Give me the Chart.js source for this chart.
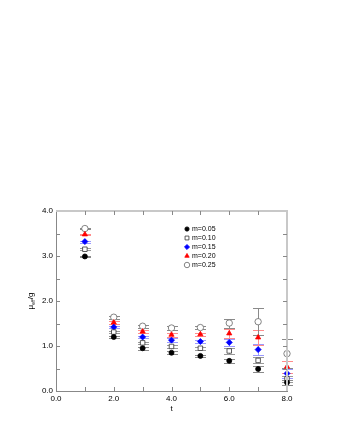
<!DOCTYPE html>
<html>
<head>
<meta charset="utf-8">
<script src="https://cdn.jsdelivr.net/npm/chart.js@4/dist/chart.umd.min.js"></script>
<style>
  html, body { margin: 0; padding: 0; background: #fff; }
  #wrap { width: 337px; height: 436px; }
</style>
</head>
<body>
<div id="wrap"><canvas id="grafico" width="337" height="436"></canvas></div>
<script>
// valores
var tempos = [1, 2, 3, 4, 5, 6, 7, 8];
var massas = ['m=0.05', 'm=0.10', 'm=0.15', 'm=0.20', 'm=0.25'];

var mu005 = [2.99, 1.20, 0.95, 0.85, 0.78, 0.67, 0.49, 0.19];
var mu010 = [3.15, 1.31, 1.07, 0.99, 0.95, 0.89, 0.68, 0.27];
var mu015 = [3.32, 1.42, 1.20, 1.13, 1.10, 1.08, 0.92, 0.39];
var mu020 = [3.48, 1.52, 1.32, 1.25, 1.26, 1.28, 1.19, 0.54];
var mu025 = [3.61, 1.64, 1.44, 1.40, 1.41, 1.51, 1.54, 0.83];

var err005 = [0.02, 0.03, 0.03, 0.03, 0.03, 0.05, 0.065, 0.05];
var err010 = [0.02, 0.03, 0.03, 0.03, 0.03, 0.06, 0.065, 0.06];
var err015 = [0.02, 0.03, 0.03, 0.04, 0.04, 0.07, 0.12, 0.10];
var err020 = [0.02, 0.03, 0.03, 0.04, 0.04, 0.10, 0.16, 0.13];
var err025 = [0.02, 0.03, 0.03, 0.04, 0.04, 0.10, 0.30, 0.32];

var xTicks = [0, 2, 4, 6, 8];
var yTicks = [0, 1, 2, 3, 4];

function pontos(vals) {
    return tempos.map(function (t, i) { return { x: t, y: vals[i] }; });
}

var series = [
    { vals: mu005, errs: err005, style: 'circle', radius: 2.5, fill: '#000000', border: '#000000', errColor: '#8a8a8a' },
    { vals: mu010, errs: err010, style: 'rect', radius: 3.2, fill: '#ffffff', border: '#333333', errColor: '#9a9a9a' },
    { vals: mu015, errs: err015, style: 'rectRot', radius: 3, fill: '#0000ff', border: '#0000ff', errColor: '#9a9aff' },
    { vals: mu020, errs: err020, style: 'triangle', radius: 3, fill: '#ff0000', border: '#ff0000', errColor: '#ff8c8c' },
    { vals: mu025, errs: err025, style: 'circle', radius: 3.2, fill: '#ffffff', border: '#666666', errColor: '#8a8a8a' }
];

var datasets = series.map(function (s, i) {
    return {
        label: massas[i],
        data: pontos(s.vals),
        errs: s.errs,
        errColor: s.errColor,
        pointStyle: s.style,
        pointRadius: s.radius,
        pointHoverRadius: s.radius,
        backgroundColor: s.fill,
        borderColor: s.border,
        pointBorderWidth: 0.8,
        showLine: false,
        clip: false
    };
});

var fonte = '"Liberation Sans", Arial, Helvetica, sans-serif';

// barras de erro, bordas e marcas internas
var extras = {
    id: 'extras',
    beforeDatasetsDraw: function (chart) {
        var ctx = chart.ctx;
        var xs = chart.scales.x, ys = chart.scales.y;
        ctx.save();
        ctx.lineWidth = 1;
        chart.data.datasets.forEach(function (ds) {
            ctx.strokeStyle = ds.errColor;
            ds.data.forEach(function (p, i) {
                var px = Math.round(xs.getPixelForValue(p.x)) + 0.5;
                var top = Math.round(ys.getPixelForValue(p.y + ds.errs[i])) + 0.5;
                var bot = Math.round(ys.getPixelForValue(p.y - ds.errs[i])) + 0.5;
                var w = 5.5;
                ctx.beginPath();
                ctx.moveTo(px, top); ctx.lineTo(px, bot);
                ctx.moveTo(px - w, top); ctx.lineTo(px + w, top);
                ctx.moveTo(px - w, bot); ctx.lineTo(px + w, bot);
                ctx.stroke();
            });
        });
        ctx.restore();
    },
    afterDraw: function (chart) {
        var ctx = chart.ctx;
        var a = chart.chartArea;
        var xs = chart.scales.x, ys = chart.scales.y;
        ctx.save();
        // borda de cima e da direita
        ctx.strokeStyle = '#c8c8c8';
        ctx.lineWidth = 2;
        ctx.beginPath();
        ctx.moveTo(a.left, a.top);
        ctx.lineTo(a.right, a.top);
        ctx.lineTo(a.right, a.bottom);
        ctx.stroke();
        // marcas internas
        ctx.strokeStyle = '#888888';
        ctx.lineWidth = 1;
        ctx.beginPath();
        for (var v = 1; v < 8; v++) {
            var px = Math.round(xs.getPixelForValue(v)) + 0.5;
            ctx.moveTo(px, a.bottom); ctx.lineTo(px, a.bottom - 4);
            ctx.moveTo(px, a.top); ctx.lineTo(px, a.top + 4);
        }
        for (var k = 1; k < 8; k++) {
            var py = Math.round(ys.getPixelForValue(k * 0.5)) + 0.5;
            ctx.moveTo(a.left, py); ctx.lineTo(a.left + 4, py);
            ctx.moveTo(a.right, py); ctx.lineTo(a.right - 4, py);
        }
        ctx.stroke();

        // títulos dos eixos
        ctx.fillStyle = '#000';
        ctx.textAlign = 'center';
        ctx.textBaseline = 'middle';
        ctx.font = '8px ' + fonte;
        ctx.fillText('t', (a.left + a.right) / 2, 409);

        ctx.translate(30, (a.top + a.bottom) / 2);
        ctx.rotate(-Math.PI / 2);
        ctx.textAlign = 'left';
        ctx.textBaseline = 'alphabetic';
        var w1 = ctx.measureText('\u03bc').width;
        ctx.font = '5px ' + fonte;
        var w2 = ctx.measureText('eff').width;
        ctx.font = '8px ' + fonte;
        var w3 = ctx.measureText('/g').width;
        var x0 = -(w1 + w2 + w3) / 2;
        ctx.fillText('\u03bc', x0, 3);
        ctx.font = '5px ' + fonte;
        ctx.fillText('eff', x0 + w1, 5);
        ctx.font = '8px ' + fonte;
        ctx.fillText('/g', x0 + w1 + w2, 3);
        ctx.restore();

        // legenda
        ctx.save();
        ctx.font = '7px ' + fonte;
        ctx.textAlign = 'left';
        ctx.textBaseline = 'middle';
        chart.data.datasets.forEach(function (ds, i) {
            var ly = 229 + i * 9;
            ctx.fillStyle = ds.backgroundColor;
            ctx.strokeStyle = ds.borderColor;
            ctx.lineWidth = 0.8;
            var r = ds.pointRadius * 0.85;
            if (Chart.helpers && Chart.helpers.drawPoint) {
                Chart.helpers.drawPoint(ctx, { pointStyle: ds.pointStyle, radius: r, borderWidth: 0.8 }, 187, ly);
            } else {
                ctx.beginPath(); ctx.arc(187, ly, r, 0, 2 * Math.PI); ctx.fill(); ctx.stroke();
            }
            ctx.fillStyle = '#000';
            ctx.fillText(ds.label, 192, ly);
        });
        ctx.restore();
    }
};

var ctx = document.getElementById('grafico').getContext('2d');

var myChart = new Chart(ctx, {
    type: 'scatter',
    data: { datasets: datasets },
    options: {
        responsive: false,
        animation: false,
        events: [],
        layout: { padding: { top: 211, right: 50, bottom: 0, left: 0 } },
        plugins: { legend: { display: false }, tooltip: { enabled: false } },
        scales: {
            x: {
                type: 'linear',
                min: 0,
                max: 8,
                afterFit: function (scale) { scale.height = 45; },
                afterBuildTicks: function (scale) { scale.ticks = xTicks.map(function (v) { return { value: v }; }); },
                ticks: {
                    padding: 3,
                    color: '#000',
                    font: { family: fonte, size: 8 },
                    callback: function (v) { return Number(v).toFixed(1); }
                },
                grid: { drawOnChartArea: false, drawTicks: false },
                border: { color: '#888888', width: 1 }
            },
            y: {
                min: 0,
                max: 4,
                afterFit: function (scale) { scale.width = 56; },
                afterBuildTicks: function (scale) { scale.ticks = yTicks.map(function (v) { return { value: v }; }); },
                ticks: {
                    padding: 3,
                    color: '#000',
                    font: { family: fonte, size: 8 },
                    callback: function (v) { return Number(v).toFixed(1); }
                },
                grid: { drawOnChartArea: false, drawTicks: false },
                border: { color: '#888888', width: 1 }
            }
        }
    },
    plugins: [extras]
});
</script>
</body>
</html>
